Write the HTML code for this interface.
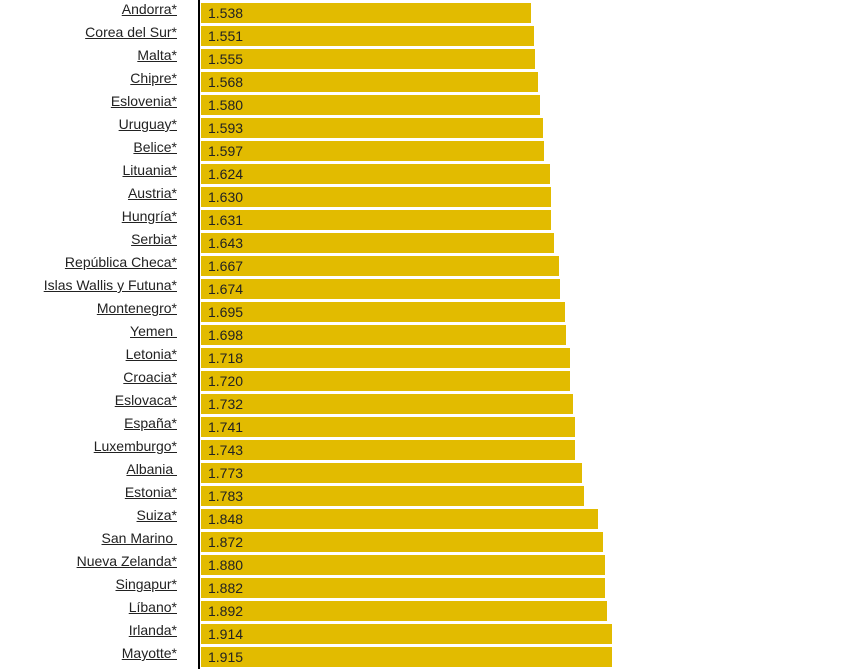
<!DOCTYPE html>
<html><head><meta charset="utf-8"><style>
body{margin:0;width:862px;height:669px;background:#fff;position:relative;overflow:hidden;font-family:"Liberation Sans",Arial,sans-serif;}
.ax{position:absolute;left:198px;top:0;width:2px;height:669px;background:#000;}
.r{position:absolute;left:0;height:23px;width:862px;}
.l{position:absolute;right:685px;top:-4px;font-size:14px;color:#222;text-decoration:underline;white-space:nowrap;line-height:20px;}
.b{position:absolute;left:201px;top:0;height:20px;background:#e2bb00;}
.v{position:absolute;left:208px;top:-1px;font-size:14px;color:#222;line-height:22px;}
</style></head><body>
<div class="ax"></div>
<div id="c"></div>
<script>
var d=[["Andorra*",1.538],["Corea del Sur*",1.551],["Malta*",1.555],["Chipre*",1.568],["Eslovenia*",1.580],["Uruguay*",1.593],["Belice*",1.597],["Lituania*",1.624],["Austria*",1.630],["Hungría*",1.631],["Serbia*",1.643],["República Checa*",1.667],["Islas Wallis y Futuna*",1.674],["Montenegro*",1.695],["Yemen\u00a0",1.698],["Letonia*",1.718],["Croacia*",1.720],["Eslovaca*",1.732],["España*",1.741],["Luxemburgo*",1.743],["Albania\u00a0",1.773],["Estonia*",1.783],["Suiza*",1.848],["San Marino\u00a0",1.872],["Nueva Zelanda*",1.880],["Singapur*",1.882],["Líbano*",1.892],["Irlanda*",1.914],["Mayotte*",1.915]];
var h="";d.forEach(function(e,i){var t=3+23*i;h+='<div class="r" style="top:'+t+'px"><span class="l">'+e[0]+'</span><div class="b" style="width:'+Math.round(e[1]*214.7)+'px"></div><span class="v">'+e[1].toFixed(3)+'</span></div>';});
document.getElementById("c").innerHTML=h;
</script>
</body></html>
